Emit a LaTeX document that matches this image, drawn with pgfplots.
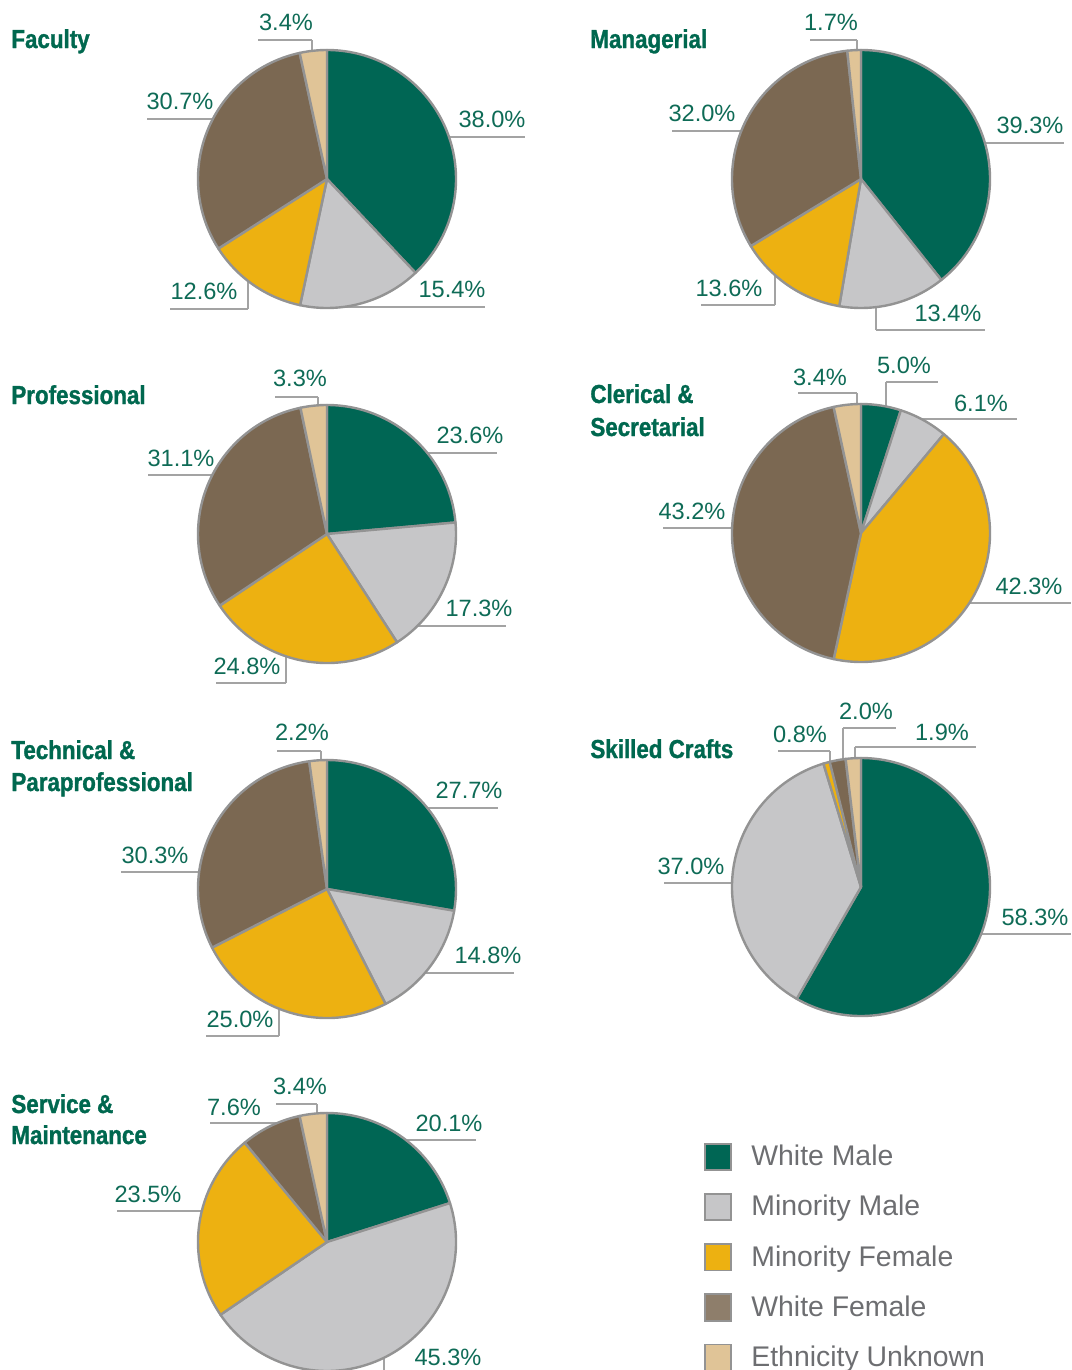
\documentclass[border=0pt]{standalone}
\usepackage{pgfplots}
\pgfplotsset{compat=1.18}
\usepackage{pgfplotstable}
\usepackage{fontspec}
\setmainfont{Liberation Sans}
\newfontfamily\titlefam{Liberation Sans}[FakeStretch=0.86,FakeBold=1.2]

\definecolor{cwm}{HTML}{006654}
\definecolor{cmm}{HTML}{C6C6C8}
\definecolor{cmf}{HTML}{EDB111}
\definecolor{cwf}{HTML}{7B6852}
\definecolor{ceu}{HTML}{E0C497}
\definecolor{cwfleg}{HTML}{8E7E6B}
\definecolor{edge}{HTML}{939393}
\definecolor{lead}{HTML}{A3A3A3}
\definecolor{lbl}{HTML}{0E6B56}
\definecolor{ttl}{HTML}{00684F}
\definecolor{legtxt}{HTML}{6D6E71}

% shares (%) by group: White Male, Minority Male, Minority Female, White Female, Ethnicity Unknown
% cx, cy: pie centre in the picture's pixel grid
\pgfplotstableread{
name wm mm mf wf eu cx cy
Faculty 38.0 15.4 12.6 30.7 3.4 327 179
Managerial 39.3 13.4 13.6 32.0 1.7 861 179
Professional 23.6 17.3 24.8 31.1 3.3 327 534
Clerical 5.0 6.1 42.3 43.2 3.4 861 533
Technical 27.7 14.8 25.0 30.3 2.2 327 889
Skilled 58.3 37.0 0.8 2.0 1.9 861 887
Service 20.1 45.3 23.5 7.6 3.4 327 1242
}\piedata

\def\prad{64.5pt}
\newcommand\getval[2]{\pgfplotstablegetelem{#1}{#2}\of\piedata}

\newcommand\pieslice[2]{%
  \getval{\prow}{#1}%
  \pgfmathsetmacro\angA{90-(\pcum/\ptot)*360}%
  \pgfmathsetmacro\pcum{\pcum+\pgfplotsretval}%
  \pgfmathsetmacro\angB{90-(\pcum/\ptot)*360}%
  \edef\tmp{\noexpand\filldraw[fill=#2,draw=edge,line width=1.2pt,line join=round] (axis cs:\pcx,\pcy) -- ++(\angA:\prad) arc[start angle=\angA,end angle=\angB,radius=\prad] -- cycle;}%
  \tmp}

\newcommand\drawpie[1]{%
  \def\prow{#1}%
  \getval{#1}{cx}\edef\pcx{\pgfplotsretval}%
  \getval{#1}{cy}\edef\pcy{\pgfplotsretval}%
  \def\ptot{0}%
  \getval{#1}{wm}\pgfmathsetmacro\ptot{\ptot+\pgfplotsretval}%
  \getval{#1}{mm}\pgfmathsetmacro\ptot{\ptot+\pgfplotsretval}%
  \getval{#1}{mf}\pgfmathsetmacro\ptot{\ptot+\pgfplotsretval}%
  \getval{#1}{wf}\pgfmathsetmacro\ptot{\ptot+\pgfplotsretval}%
  \getval{#1}{eu}\pgfmathsetmacro\ptot{\ptot+\pgfplotsretval}%
  \def\pcum{0}%
  \pieslice{wm}{cwm}\pieslice{mm}{cmm}\pieslice{mf}{cmf}\pieslice{wf}{cwf}\pieslice{eu}{ceu}%
}

\newcommand\hl[3]{\draw[lead,line width=0.75pt] (axis cs:#1,#3) -- (axis cs:#2,#3);}
\newcommand\vl[3]{\draw[lead,line width=0.75pt] (axis cs:#1,#2) -- (axis cs:#1,#3);}
\newcommand\lab[3]{\node[anchor=base,inner sep=0pt,text=lbl,font=\fontsize{11.8}{13}\selectfont] at (axis cs:#1,#2) {#3};}
\newcommand\ttl[3]{\node[anchor=base west,inner sep=0pt,text=ttl,font=\titlefam\bfseries\fontsize{13}{15}\selectfont] at (axis cs:#1,#2) {#3};}

\begin{document}
\begin{tikzpicture}
\begin{axis}[
  width=535.5pt, height=685pt, scale only axis,
  xmin=0, xmax=1071, ymin=0, ymax=1370, y dir=reverse,
  hide axis, clip=false,
  legend image code/.code={\draw[#1,line width=0.9pt] (0pt,-6.6pt) rectangle (13.2pt,6.6pt);},
  legend style={at={(0.6573,0.1658)}, anchor=north west, draw=none, fill=none,
    inner sep=0pt, outer sep=0pt, row sep=11pt,
    font=\fontsize{14.2}{16}\selectfont, text=legtxt,
    nodes={inner sep=0pt},
    /tikz/every odd column/.append style={column sep=9.6pt}},
  legend cell align=left,
]
\coordinate (bbSW) at (axis cs:0,1370);
\coordinate (bbNE) at (axis cs:1071,0);

% ---- leader lines (drawn first, pies cover their inner ends)
% Faculty
\hl{258}{312}{40} \vl{312}{40}{55}
\hl{446}{525}{137}
\hl{147}{216}{119}
\hl{170}{248}{309} \vl{248}{309}{280}
\hl{345}{485}{307}
% Managerial
\hl{810}{857}{40} \vl{857}{40}{55}
\hl{982}{1064}{143}
\hl{672}{744}{131}
\hl{701}{775}{305} \vl{775}{305}{270}
\hl{876}{985}{330} \vl{876}{330}{303}
% Professional
\hl{275}{318}{397} \vl{318}{397}{410}
\hl{424}{497}{453}
\hl{148}{215}{475}
\hl{414}{506}{626}
\hl{216}{286}{683} \vl{286}{683}{652}
% Clerical
\hl{798}{857}{393} \vl{857}{393}{408}
\hl{886}{938}{382} \vl{886}{382}{410}
\hl{918}{1017}{419}
\hl{663}{735}{528}
\hl{966}{1071}{603}
% Technical
\hl{277}{321}{751} \vl{321}{751}{764}
\hl{424}{498}{808}
\hl{121}{202}{872}
\hl{422}{514}{973}
\hl{206}{279}{1036} \vl{279}{1036}{1005}
% Skilled crafts
\hl{778}{830}{751} \vl{830}{751}{766}
\hl{843}{896}{728} \vl{843}{728}{763}
\hl{855}{976}{747} \vl{855}{747}{763}
\hl{664}{735}{883}
\hl{979}{1071}{934}
% Service
\hl{276}{317}{1104} \vl{317}{1104}{1117}
\hl{210}{285}{1123}
\hl{403}{476}{1140}
\hl{117}{205}{1211}
\vl{384}{1352}{1372}

% ---- pies
\drawpie{0}\drawpie{1}\drawpie{2}\drawpie{3}\drawpie{4}\drawpie{5}\drawpie{6}

% ---- value labels
\lab{286}{30}{3.4\%}\lab{492}{127}{38.0\%}\lab{180}{109}{30.7\%}\lab{204}{299}{12.6\%}\lab{452}{297}{15.4\%}
\lab{831}{30}{1.7\%}\lab{1030}{133}{39.3\%}\lab{702}{121}{32.0\%}\lab{729}{296}{13.6\%}\lab{948}{321}{13.4\%}
\lab{300}{386}{3.3\%}\lab{470}{443}{23.6\%}\lab{181}{466}{31.1\%}\lab{479}{616}{17.3\%}\lab{247}{674}{24.8\%}
\lab{820}{385}{3.4\%}\lab{904}{373}{5.0\%}\lab{981}{411}{6.1\%}\lab{692}{519}{43.2\%}\lab{1029}{594}{42.3\%}
\lab{302}{740}{2.2\%}\lab{469}{798}{27.7\%}\lab{155}{863}{30.3\%}\lab{488}{963}{14.8\%}\lab{240}{1027}{25.0\%}
\lab{800}{742}{0.8\%}\lab{866}{719}{2.0\%}\lab{942}{740}{1.9\%}\lab{691}{874}{37.0\%}\lab{1035}{925}{58.3\%}
\lab{300}{1094}{3.4\%}\lab{234}{1115}{7.6\%}\lab{449}{1131}{20.1\%}\lab{148}{1202}{23.5\%}\lab{448}{1365}{45.3\%}

% ---- titles
\ttl{11}{48}{Faculty}
\ttl{590}{48}{Managerial}
\ttl{11}{404}{Professional}
\ttl{590}{403}{Clerical \&}
\ttl{590}{436}{Secretarial}
\ttl{11}{759}{Technical \&}
\ttl{11}{791}{Paraprofessional}
\ttl{590}{758}{Skilled Crafts}
\ttl{11}{1113}{Service \&}
\ttl{11}{1144}{Maintenance}

% ---- legend
\addlegendimage{fill=cwm,draw=edge}\addlegendentry{White Male}
\addlegendimage{fill=cmm,draw=edge}\addlegendentry{Minority Male}
\addlegendimage{fill=cmf,draw=edge}\addlegendentry{Minority Female}
\addlegendimage{fill=cwfleg,draw=edge}\addlegendentry{White Female}
\addlegendimage{fill=ceu,draw=edge}\addlegendentry{Ethnicity Unknown}
\end{axis}
\pgfresetboundingbox
\path (bbSW) rectangle (bbNE);
\end{tikzpicture}
\end{document}
